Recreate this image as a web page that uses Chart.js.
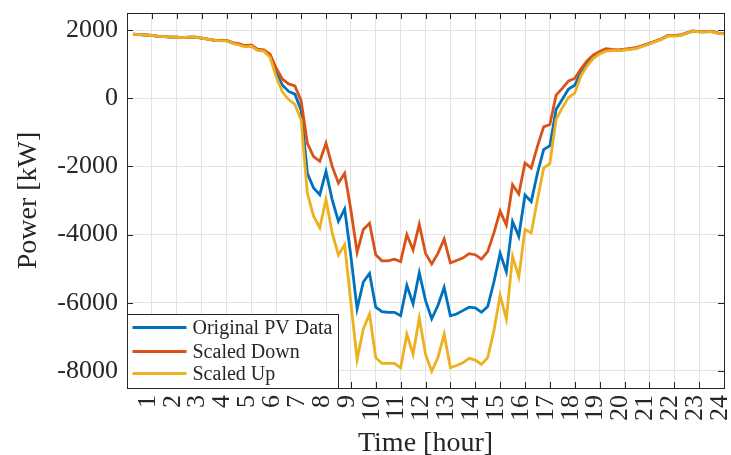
<!DOCTYPE html>
<html>
<head>
<meta charset="utf-8">
<title>PV Power</title>
<script src="https://cdn.jsdelivr.net/npm/chart.js@4.4.0/dist/chart.umd.min.js"></script>
<style>
  body { margin: 0; background: #fff; }
  #wrap { width: 731px; height: 455px; }
</style>
</head>
<body>
<div id="wrap"><canvas id="powerChart" width="731" height="455"></canvas></div>
<script>
// Time of day (15 min steps)
const hours = [
  0.25, 0.5, 0.75, 1, 1.25, 1.5, 1.75, 2, 2.25, 2.5, 2.75, 3,
  3.25, 3.5, 3.75, 4, 4.25, 4.5, 4.75, 5, 5.25, 5.5, 5.75, 6,
  6.25, 6.5, 6.75, 7, 7.25, 7.5, 7.75, 8, 8.25, 8.5, 8.75, 9,
  9.25, 9.5, 9.75, 10, 10.25, 10.5, 10.75, 11, 11.25, 11.5, 11.75, 12,
  12.25, 12.5, 12.75, 13, 13.25, 13.5, 13.75, 14, 14.25, 14.5, 14.75, 15,
  15.25, 15.5, 15.75, 16, 16.25, 16.5, 16.75, 17, 17.25, 17.5, 17.75, 18,
  18.25, 18.5, 18.75, 19, 19.25, 19.5, 19.75, 20, 20.25, 20.5, 20.75, 21,
  21.25, 21.5, 21.75, 22, 22.25, 22.5, 22.75, 23, 23.25, 23.5, 23.75, 24
];

// Power [kW]
const originalPV = [
  1880, 1865, 1855, 1845, 1815, 1805, 1795, 1795, 1780, 1795, 1795, 1765,
  1735, 1700, 1690, 1690, 1620, 1580, 1520, 1540, 1420, 1400, 1250, 760,
  380, 200, 120, -350, -2200, -2630, -2830, -2150, -2980, -3610, -3250, -4630,
  -6180, -5390, -5140, -6130, -6260, -6280, -6280, -6380, -5490, -6030, -5120, -5930,
  -6470, -6080, -5550, -6380, -6330, -6230, -6130, -6150, -6280, -6110, -5390, -4550,
  -5090, -3620, -4050, -2840, -3030, -2200, -1510, -1390, -330, -30, 270, 380,
  760, 1030, 1230, 1350, 1420, 1410, 1405, 1425, 1445, 1475, 1540, 1600,
  1670, 1735, 1835, 1835, 1845, 1910, 1970, 1950, 1950, 1960, 1910, 1890
];

const scaledDown = [
  1880, 1865, 1855, 1845, 1815, 1805, 1795, 1795, 1780, 1795, 1795, 1765,
  1735, 1705, 1695, 1695, 1630, 1600, 1540, 1560, 1440, 1420, 1290, 880,
  560, 420, 360, -70, -1320, -1710, -1850, -1320, -2000, -2490, -2200, -3270,
  -4520, -3850, -3670, -4590, -4770, -4770, -4720, -4790, -4000, -4450, -3700, -4550,
  -4860, -4550, -4130, -4830, -4760, -4690, -4560, -4590, -4720, -4500, -3950, -3310,
  -3720, -2540, -2810, -1900, -2050, -1410, -840, -770, 90, 290, 510, 580,
  860, 1100, 1270, 1370, 1450, 1430, 1420, 1440, 1460, 1490, 1550, 1610,
  1680, 1745, 1845, 1845, 1855, 1920, 1975, 1955, 1955, 1965, 1915, 1895
];

const scaledUp = [
  1880, 1865, 1855, 1845, 1815, 1805, 1795, 1795, 1780, 1795, 1795, 1765,
  1735, 1695, 1685, 1685, 1610, 1565, 1505, 1525, 1400, 1380, 1200, 620,
  180, -40, -180, -640, -2780, -3460, -3800, -2970, -3950, -4600, -4300, -6000,
  -7660, -6770, -6330, -7610, -7780, -7780, -7780, -7910, -6920, -7510, -6450, -7510,
  -8010, -7610, -6920, -7900, -7840, -7760, -7630, -7680, -7810, -7610, -6820, -5780,
  -6470, -4640, -5240, -3850, -3950, -2980, -2050, -1920, -620, -280, 20, 150,
  660, 950, 1170, 1300, 1380, 1395, 1395, 1415, 1435, 1465, 1530, 1590,
  1660, 1725, 1825, 1825, 1835, 1905, 1965, 1945, 1945, 1955, 1905, 1885
];

// Axis ticks
const xTicks = [1, 2, 3, 4, 5, 6, 7, 8, 9, 10, 11, 12, 13, 14, 15, 16, 17, 18, 19, 20, 21, 22, 23, 24];
const yTicks = [-8000, -6000, -4000, -2000, 0, 2000];

const seriesLabels = ['Original PV Data', 'Scaled Down', 'Scaled Up'];
const seriesColors = ['#0072BD', '#D95319', '#EDB120'];

const axisColor = '#262626';
const serif = "'Liberation Serif', 'DejaVu Serif', serif";

function toPoints(values) {
  return hours.map((h, i) => ({ x: h, y: values[i] }));
}

// no extra room for the outer tick labels, the layout padding handles it
function noScalePadding(scale) {
  scale.paddingLeft = 0;
  scale.paddingRight = 0;
  scale.paddingTop = 0;
  scale.paddingBottom = 0;
}

// Box, inward ticks and legend like the MATLAB figure
const matlabBox = {
  id: 'matlabBox',
  afterDraw(chart) {
    const { ctx, chartArea: a, scales } = chart;
    const tl = 6;
    ctx.save();
    ctx.strokeStyle = axisColor;
    ctx.lineWidth = 1;
    ctx.beginPath();
    xTicks.forEach(v => {
      const px = Math.round(scales.x.getPixelForValue(v)) + 0.5;
      ctx.moveTo(px, a.top); ctx.lineTo(px, a.top + tl);
      ctx.moveTo(px, a.bottom); ctx.lineTo(px, a.bottom - tl);
    });
    yTicks.forEach(v => {
      const py = Math.round(scales.y.getPixelForValue(v)) + 0.5;
      ctx.moveTo(a.left, py); ctx.lineTo(a.left + tl, py);
      ctx.moveTo(a.right, py); ctx.lineTo(a.right - tl, py);
    });
    ctx.stroke();
    ctx.strokeRect(Math.round(a.left) + 0.5, Math.round(a.top) + 0.5,
      Math.round(a.right - a.left), Math.round(a.bottom - a.top));

    // legend (bottom left, inside axes)
    const lw = 211, lh = 74;
    const lx = Math.round(a.left) + 0.5, ly = Math.round(a.bottom - lh) + 0.5;
    ctx.fillStyle = '#fff';
    ctx.fillRect(lx, ly, lw, lh);
    ctx.strokeRect(lx, ly, lw, lh);
    const rows = [13, 37, 59];
    ctx.font = '20px ' + serif;
    ctx.textBaseline = 'middle';
    ctx.textAlign = 'left';
    seriesLabels.forEach((label, i) => {
      const y = ly + rows[i];
      ctx.strokeStyle = seriesColors[i];
      ctx.lineWidth = 3;
      ctx.beginPath();
      ctx.moveTo(lx + 5, y); ctx.lineTo(lx + 59, y);
      ctx.stroke();
      ctx.fillStyle = axisColor;
      ctx.fillText(label, lx + 65, y + 1);
    });
    ctx.restore();
  }
};

window.addEventListener('DOMContentLoaded', () => {
  const ctx = document.getElementById('powerChart');

  new Chart(ctx.getContext('2d'), {
    type: 'line',
    data: {
      datasets: [
        { label: seriesLabels[0], data: toPoints(originalPV), borderColor: seriesColors[0], order: 3 },
        { label: seriesLabels[1], data: toPoints(scaledDown), borderColor: seriesColors[1], order: 2 },
        { label: seriesLabels[2], data: toPoints(scaledUp), borderColor: seriesColors[2], order: 1 }
      ]
    },
    options: {
      responsive: false,
      animation: false,
      devicePixelRatio: 1,
      layout: { padding: { top: 13, right: 7, left: 0, bottom: 0 } },
      elements: {
        line: { borderWidth: 2.8, tension: 0, fill: false },
        point: { radius: 0 }
      },
      plugins: {
        legend: { display: false },
        tooltip: { enabled: false }
      },
      scales: {
        x: {
          type: 'linear',
          min: 0,
          max: 24,
          afterFit: scale => { scale.height = 67; noScalePadding(scale); },
          afterBuildTicks: scale => { scale.ticks = xTicks.map(v => ({ value: v })); },
          grid: { color: '#e3e3e3', drawTicks: false },
          border: { color: axisColor },
          ticks: {
            autoSkip: false,
            minRotation: 90,
            maxRotation: 90,
            padding: 7,
            labelOffset: -4,
            color: axisColor,
            font: { family: serif, size: 26 },
            callback: v => String(v)
          },
          title: {
            display: true,
            text: 'Time [hour]',
            color: axisColor,
            padding: { top: 0, bottom: -3 },
            font: { family: serif, size: 28, lineHeight: 1 }
          }
        },
        y: {
          min: -8500,
          max: 2500,
          afterFit: scale => { scale.width = 127; noScalePadding(scale); },
          afterBuildTicks: scale => { scale.ticks = yTicks.map(v => ({ value: v })); },
          grid: { color: '#e3e3e3', drawTicks: false },
          border: { color: axisColor },
          ticks: {
            padding: 9,
            color: axisColor,
            font: { family: serif, size: 26 },
            callback: v => String(v)
          },
          title: {
            display: true,
            text: 'Power [kW]',
            color: axisColor,
            padding: { top: 15 },
            font: { family: serif, size: 28, lineHeight: 1 }
          }
        }
      }
    },
    plugins: [matlabBox]
  });
});
</script>
</body>
</html>
